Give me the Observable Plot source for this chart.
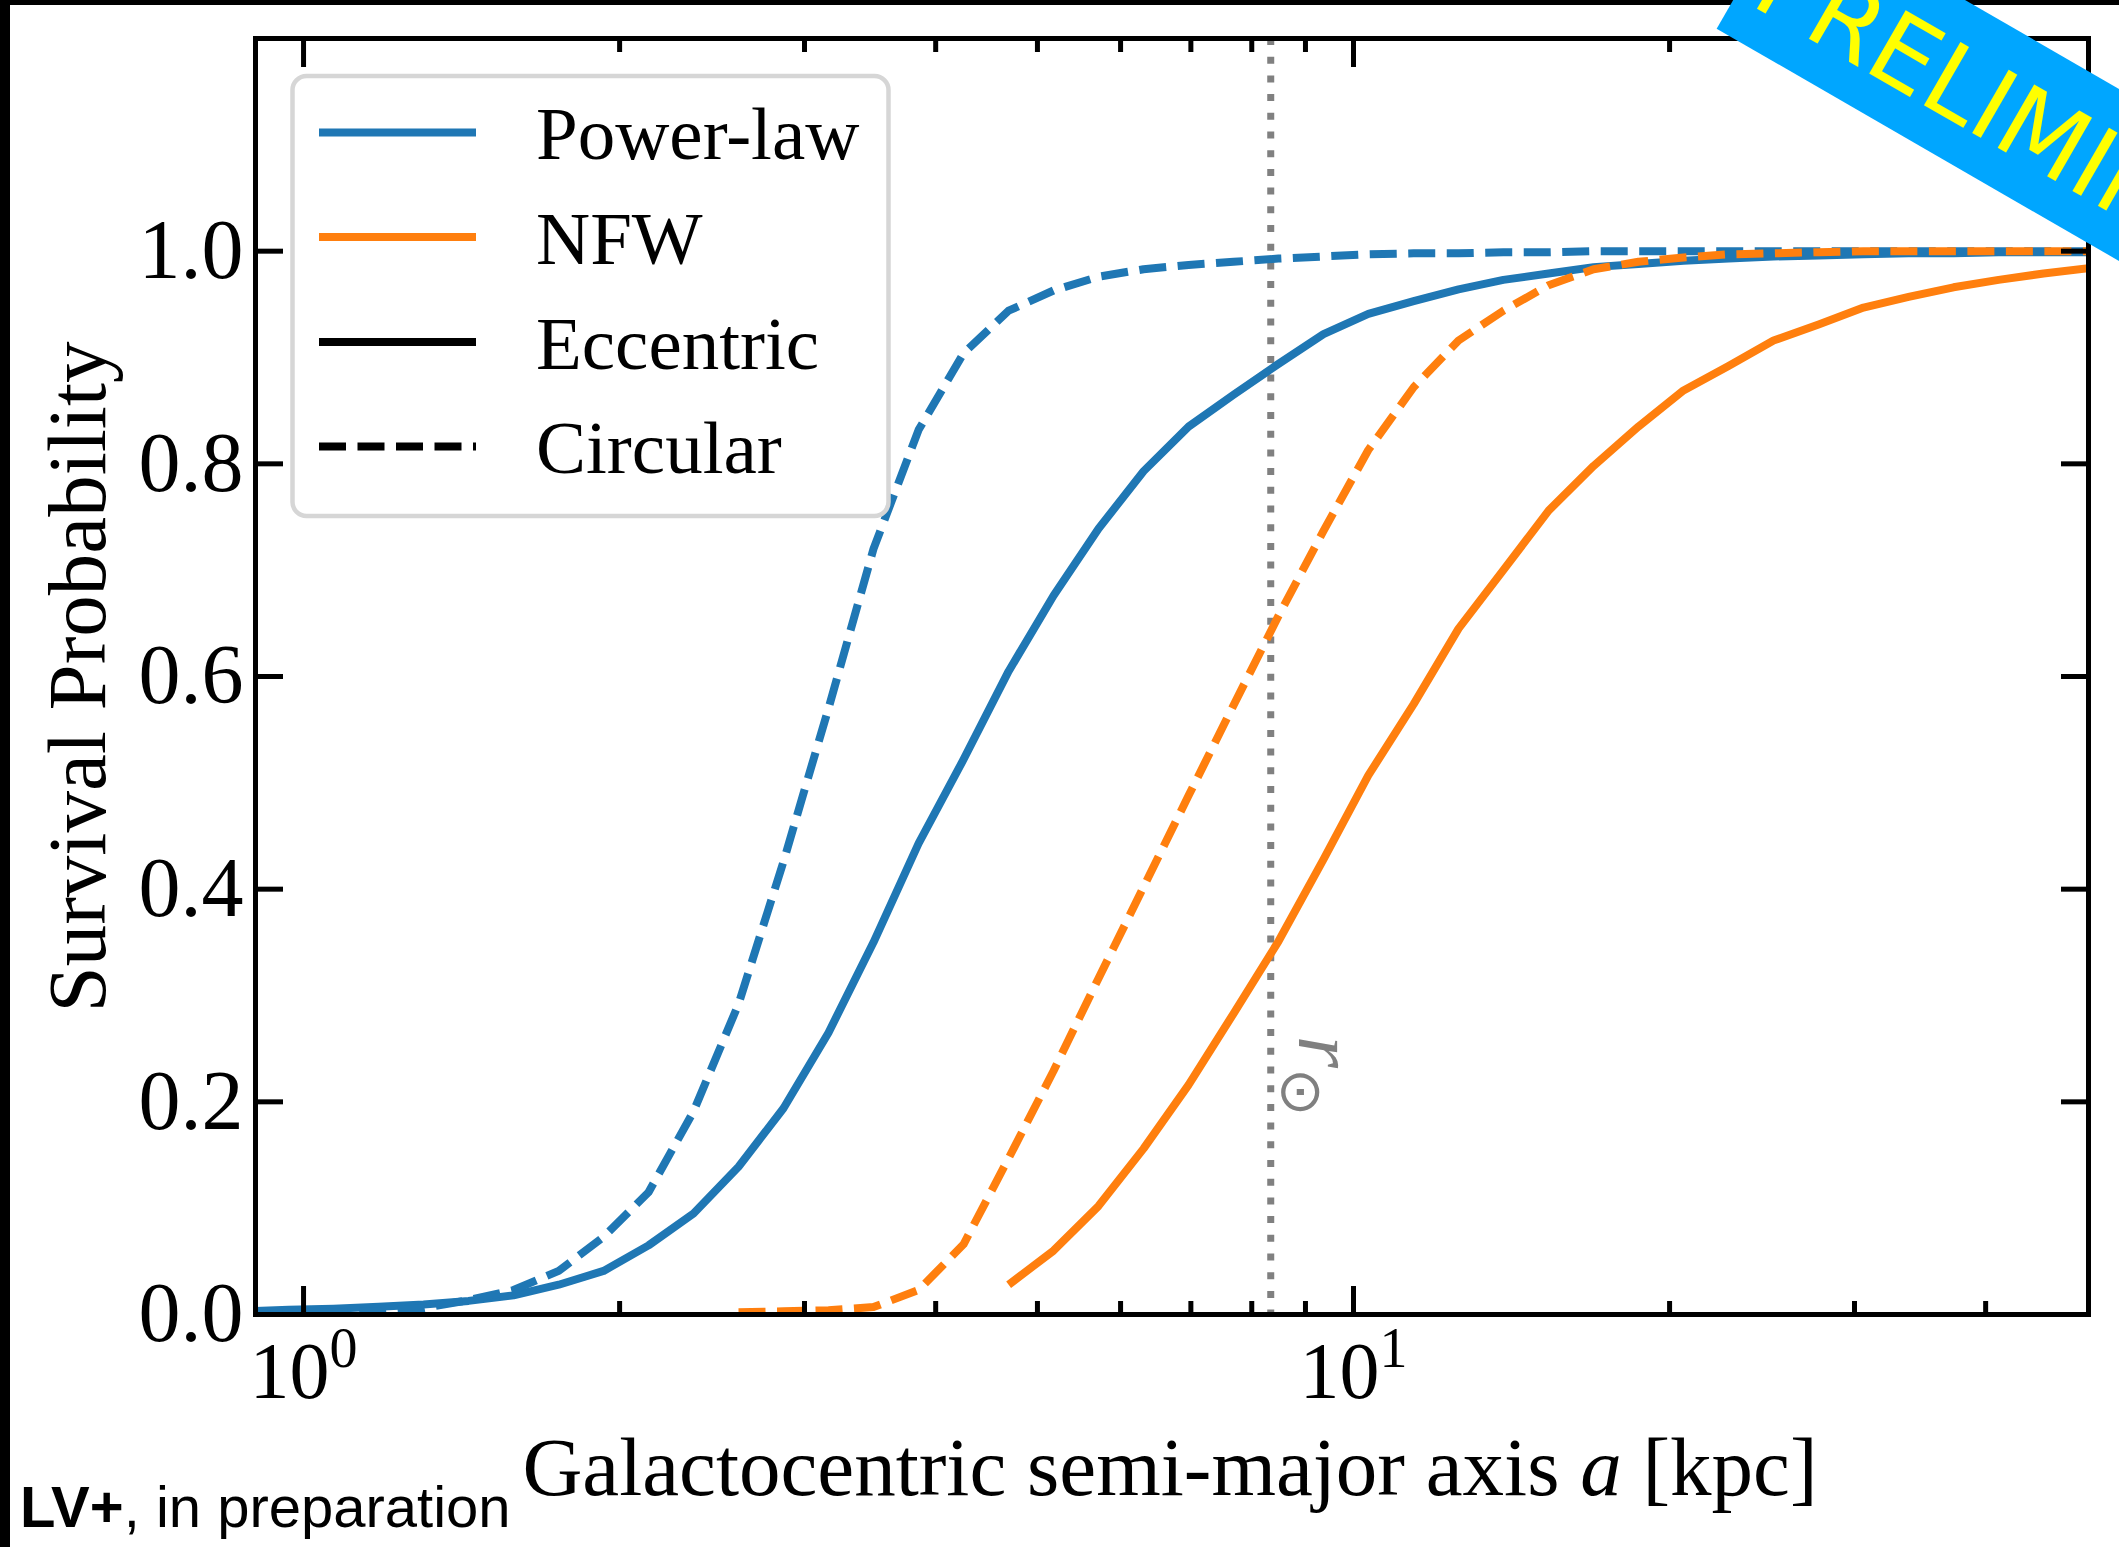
<!DOCTYPE html>
<html>
<head>
<meta charset="utf-8">
<script src="https://cdn.jsdelivr.net/npm/d3@7"></script>
<script src="https://cdn.jsdelivr.net/npm/@observablehq/plot@0.6"></script>
<style>
  html, body { margin: 0; padding: 0; background: #fff; }
  svg { display: block; }
</style>
</head>
<body>
<div id="chart"></div>
<script>
// ---- data ----
const aGrid = [0.877, 0.968, 1.068, 1.179, 1.301, 1.436, 1.585, 1.750, 1.931, 2.131,
  2.352, 2.596, 2.865, 3.162, 3.490, 3.853, 4.252, 4.694, 5.179, 5.716,
  6.310, 6.965, 7.687, 8.483, 9.363, 10.33, 11.41, 12.59, 13.89, 15.34,
  16.93, 18.68, 20.62, 22.76, 25.12, 27.73, 30.60, 33.78, 37.28, 41.15,
  45.42, 50.12];

const powerLawEccentric = [0.003, 0.0044, 0.0055, 0.0072, 0.0095, 0.0128, 0.018, 0.028, 0.041, 0.065,
  0.095, 0.139, 0.194, 0.265, 0.350, 0.443, 0.522, 0.605, 0.676, 0.739,
  0.793, 0.835, 0.865, 0.894, 0.922, 0.941, 0.953, 0.964, 0.973, 0.979,
  0.985, 0.988, 0.991, 0.993, 0.995, 0.996, 0.997, 0.998, 0.998, 0.999,
  0.999, 0.999];

const powerLawCircular = [0.001, 0.0015, 0.002, 0.003, 0.006, 0.0135, 0.023, 0.041, 0.073, 0.115,
  0.191, 0.292, 0.426, 0.570, 0.720, 0.832, 0.904, 0.944, 0.963, 0.976,
  0.983, 0.987, 0.990, 0.993, 0.995, 0.997, 0.998, 0.998, 0.999, 0.999,
  1.0, 1.0, 1.0, 1.0, 1.0, 1.0, 1.0, 1.0, 1.0, 1.0,
  1.0, 1.0];

const nfwEccentric = [null, null, null, null, null, null, null, null, null, null,
  null, null, null, null, null, null, null, 0.028, 0.060, 0.102,
  0.156, 0.216, 0.283, 0.351, 0.428, 0.507, 0.574, 0.645, 0.700, 0.756,
  0.798, 0.835, 0.869, 0.892, 0.916, 0.931, 0.947, 0.957, 0.966, 0.973,
  0.979, 0.984];

const nfwCircular = [null, null, null, null, null, null, null, null, null, null,
  null, 0.002, 0.003, 0.004, 0.007, 0.023, 0.066, 0.147, 0.229, 0.316,
  0.402, 0.488, 0.573, 0.657, 0.737, 0.813, 0.872, 0.916, 0.944, 0.968,
  0.983, 0.990, 0.994, 0.997, 0.998, 0.999, 1.0, 1.0, 1.0, 1.0,
  1.0, 1.0];

const xMajorTicks = [1, 10];
const xMinorTicks = [2, 3, 4, 5, 6, 7, 8, 9, 20, 30, 40];
const yTicks = [0, 0.2, 0.4, 0.6, 0.8, 1.0];
const rSun = 8.34;

const modelLabels = ["Power-law", "NFW"];
const orbitLabels = ["Eccentric", "Circular"];
const modelColors = ["#1f77b4", "#ff7f0e"];

// ---- build tables ----
function rows(ys) {
  return aGrid.map((a, i) => ({a, p: ys[i]})).filter(d => d.p != null);
}

const W = 2119, H = 1547;
const LW = 8;
const DASH = "27,11.5";

const lineOpts = (color, dashed) => ({
  x: "a", y: "p", stroke: color, strokeWidth: LW, clip: true,
  strokeLinejoin: "round", strokeLinecap: "butt",
  strokeDasharray: dashed ? DASH : null
});

const plot = Plot.plot({
  width: W,
  height: H,
  marginLeft: 255,
  marginRight: 31,
  marginTop: 38,
  marginBottom: 233,
  x: {type: "log", domain: [0.9, 50.12]},
  y: {domain: [0, 1.2]},
  style: {fontFamily: "Liberation Serif", background: "white", color: "black"},
  marks: [
    Plot.ruleX([rSun], {stroke: "#808080", strokeWidth: 7, strokeDasharray: "7,11.7"}),
    Plot.line(rows(powerLawEccentric), lineOpts(modelColors[0], false)),
    Plot.line(rows(powerLawCircular), lineOpts(modelColors[0], true)),
    Plot.line(rows(nfwEccentric), lineOpts(modelColors[1], false)),
    Plot.line(rows(nfwCircular), lineOpts(modelColors[1], true)),
    Plot.text([rSun], {x: d => d, y: 0.224, text: () => "r\u2299", rotate: 90,
      textAnchor: "middle", lineAnchor: "bottom", dx: 28, fill: "#808080",
      fontSize: 82}),
    Plot.frame({stroke: "black", strokeWidth: 5}),
    // inward tick marks on all four sides
    Plot.axisX(xMajorTicks, {anchor: "bottom", tickSize: -28, strokeWidth: 5, tickFormat: () => "", label: null}),
    Plot.axisX(xMinorTicks, {anchor: "bottom", tickSize: -13, strokeWidth: 5, tickFormat: () => "", label: null}),
    Plot.axisX(xMajorTicks, {anchor: "top", tickSize: -28, strokeWidth: 5, tickFormat: () => "", label: null}),
    Plot.axisX(xMinorTicks, {anchor: "top", tickSize: -13, strokeWidth: 5, tickFormat: () => "", label: null}),
    Plot.axisY(yTicks, {anchor: "left", tickSize: -28, strokeWidth: 5, tickFormat: () => "", label: null}),
    Plot.axisY(yTicks, {anchor: "right", tickSize: -28, strokeWidth: 5, tickFormat: () => "", label: null}),
    // tick labels
    Plot.axisX(xMajorTicks, {anchor: "bottom", tickSize: 0, tickPadding: 27, fontSize: 80,
      tickFormat: d => "10^" + Math.round(Math.log10(d)), label: null}),
    Plot.axisY(yTicks, {anchor: "left", tickSize: 0, tickPadding: 12, fontSize: 84,
      tickFormat: d3.format(".1f"), label: null})
  ]
});

document.getElementById("chart").appendChild(plot);
const svg = d3.select(plot);

// superscript exponents on the log-axis labels
svg.selectAll("text").each(function() {
  const t = this.textContent;
  if (!/^10\^\d$/.test(t)) return;
  const [base, exp] = t.split("^");
  const s = d3.select(this);
  s.text(null);
  s.append("tspan").text(base);
  s.append("tspan").attr("dy", -31).attr("font-size", 56).text(exp);
});

// r_sun label with subscript
svg.selectAll("text").each(function() {
  if (this.textContent !== "r\u2299") return;
  const s = d3.select(this);
  s.text(null);
  s.append("tspan").attr("font-style", "italic").text("r");
  s.append("tspan").attr("font-style", "normal").attr("font-family", "DejaVu Sans")
    .attr("font-size", 58).attr("dy", 17).text("\u2299");
});

// axis titles
svg.append("text")
  .attr("x", 1170).attr("y", 1495)
  .attr("text-anchor", "middle")
  .attr("font-family", "Liberation Serif").attr("font-size", 83).attr("fill", "black")
  .call(t => {
    t.append("tspan").text("Galactocentric semi-major axis ");
    t.append("tspan").attr("font-style", "italic").text("a");
    t.append("tspan").text(" [kpc]");
  });

svg.append("text")
  .attr("transform", "translate(105,677) rotate(-90)")
  .attr("text-anchor", "middle")
  .attr("font-family", "Liberation Serif").attr("font-size", 83).attr("fill", "black")
  .text("Survival Probability");

// legend
const lg = svg.append("g");
lg.append("rect")
  .attr("x", 292.5).attr("y", 76).attr("width", 596).attr("height", 440)
  .attr("rx", 14).attr("fill", "white").attr("fill-opacity", 0.8)
  .attr("stroke", "#d6d6d6").attr("stroke-width", 4.5);
const legendItems = [
  {label: modelLabels[0], color: modelColors[0], dash: null},
  {label: modelLabels[1], color: modelColors[1], dash: null},
  {label: orbitLabels[0], color: "black", dash: null},
  {label: orbitLabels[1], color: "black", dash: DASH}
];
const rowY = [132.5, 237, 342, 446.5];
legendItems.forEach((it, i) => {
  lg.append("line")
    .attr("x1", 319).attr("x2", 476).attr("y1", rowY[i]).attr("y2", rowY[i])
    .attr("stroke", it.color).attr("stroke-width", LW)
    .attr("stroke-dasharray", it.dash);
  lg.append("text")
    .attr("x", 536).attr("y", rowY[i] + 26.5)
    .attr("text-anchor", "start")
    .attr("font-family", "Liberation Serif").attr("font-size", 75).attr("fill", "black")
    .text(it.label);
});

// black frame strips of the original slide
svg.append("rect").attr("x", 0).attr("y", 0).attr("width", 10).attr("height", H).attr("fill", "black");
svg.append("rect").attr("x", 0).attr("y", 0).attr("width", W).attr("height", 5).attr("fill", "black");

// PRELIMINARY banner
const banner = svg.append("g").attr("transform", "rotate(30)");
banner.append("rect")
  .attr("x", 1501).attr("y", -982.5).attr("width", 1300).attr("height", 149)
  .attr("fill", "#00a6ff");
banner.append("text")
  .attr("x", 1516).attr("y", -871)
  .attr("text-anchor", "start")
  .attr("font-family", "DejaVu Sans").attr("font-size", 100).attr("fill", "#ffff00")
  .text("PRELIMINARY");

// caption
svg.append("text")
  .attr("x", 20).attr("y", 1527)
  .attr("text-anchor", "start")
  .attr("font-family", "Liberation Sans").attr("font-size", 58).attr("fill", "black")
  .call(t => {
    t.append("tspan").attr("font-weight", "bold").text("LV+");
    t.append("tspan").text(", in preparation");
  });
</script>
</body>
</html>
